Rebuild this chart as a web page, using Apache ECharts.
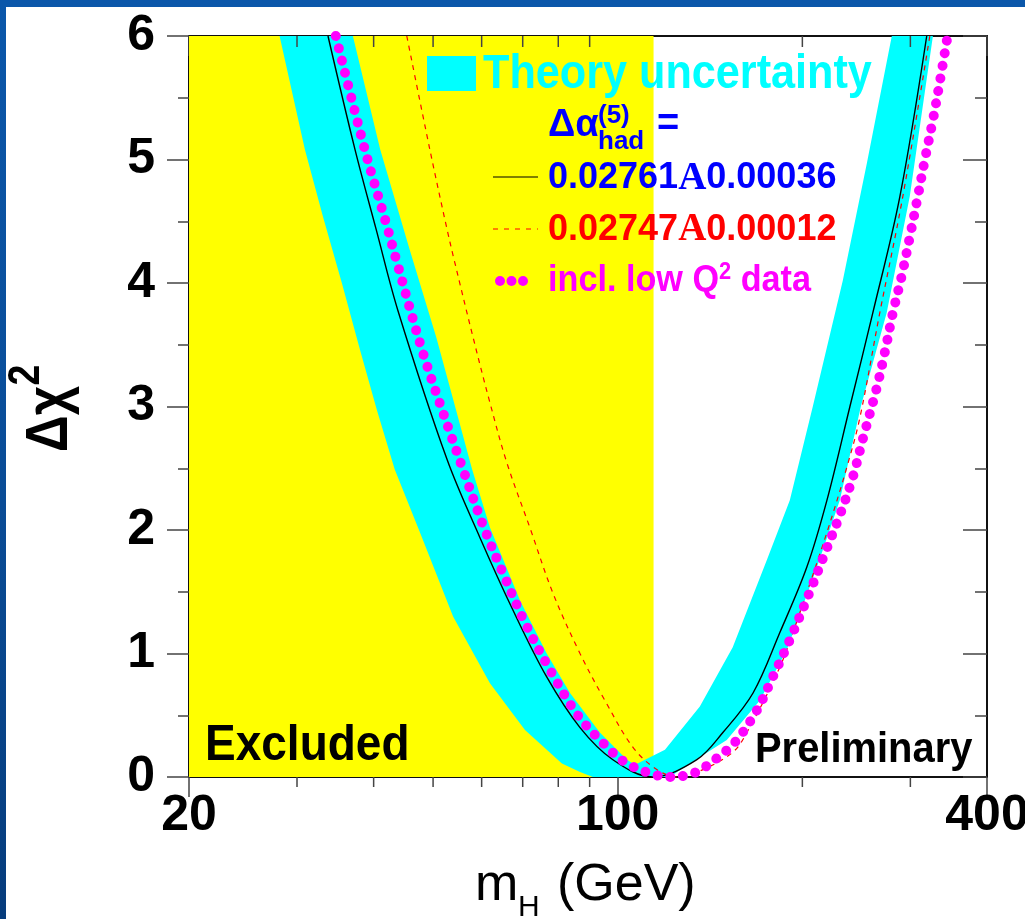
<!DOCTYPE html>
<html>
<head>
<meta charset="utf-8">
<script src="https://cdn.jsdelivr.net/npm/echarts@6/dist/echarts.min.js"></script>
<style>
  html, body { margin: 0; padding: 0; width: 1025px; height: 919px; overflow: hidden;
    background: linear-gradient(180deg, #0b57aa 0%, #0a4c96 55%, #063c7c 100%); }
  #panel { position: absolute; left: 6px; top: 7px; width: 1019px; height: 912px; background: #ffffff; }
  #chart { position: absolute; left: 0; top: 0; width: 1025px; height: 919px; }
</style>
</head>
<body>
<div id="panel"></div>
<div id="chart"></div>
<script>
// ---- axis ranges ----
const massMin = 20;
const massMax = 400;
const chi2Min = 0;
const chi2Max = 6;
const excludedLimit = 114.4;                 // direct search limit (GeV)
const minorMassTicks = [30, 40, 50, 60, 70, 80, 90, 200, 300];

// ---- Δχ² curves, [mH (GeV), Δχ²] ----
// Δα_had = 0.02761 ± 0.00036
const curveCentral = [
  [33.7, 6.0], [37.3, 5.08], [40.4, 4.43], [43.8, 3.78], [52.7, 2.57], [59.6, 1.94],
  [67.5, 1.35], [76.6, 0.81], [86.8, 0.40], [98.2, 0.14], [114, 0.0], [134.6, 0.14],
  [148.4, 0.36], [166.2, 0.68], [183.8, 1.17], [203.4, 1.70], [219.3, 2.24],
  [239.1, 3.0], [260.6, 3.76], [288.4, 4.70], [319, 6.0]
];
// Δα_had = 0.02747 ± 0.00012
const curveAlt = [
  [45.3, 6.0], [49.4, 5.08], [52.5, 4.47], [54.1, 4.19], [58.1, 3.56], [61.9, 3.03],
  [66.0, 2.54], [71.9, 2.02], [78.4, 1.49], [86.8, 1.0], [95.3, 0.62], [105.9, 0.24],
  [115.8, 0.06], [125.3, 0.0], [137.7, 0.06], [154, 0.2], [162.4, 0.36], [183.8, 0.89],
  [198.1, 1.33], [219.3, 1.98], [236.4, 2.51], [248.2, 2.91], [267.5, 3.76],
  [291.6, 4.70], [322.7, 6.0]
];
// including low-Q² data
const curveLowQ2 = [
  [34.7, 6.0], [38.7, 5.08], [42.0, 4.47], [43.7, 4.16], [48.1, 3.44], [53.7, 2.74],
  [55.5, 2.54], [60.3, 2.04], [65.0, 1.65], [70.6, 1.25], [77.5, 0.87], [86.1, 0.50],
  [95.3, 0.26], [102.7, 0.12], [112.8, 0.03], [121.6, 0.0], [131.1, 0.02], [137.7, 0.07],
  [144.0, 0.14], [155.2, 0.28], [168.6, 0.54], [179.0, 0.81], [190.8, 1.11],
  [205.7, 1.50], [217.6, 1.81], [230.2, 2.12], [241.8, 2.43], [251.1, 2.74],
  [264.4, 3.15], [272.6, 3.44], [281.0, 3.76], [290.5, 4.06], [299.3, 4.37],
  [308.5, 4.70], [316.8, 5.0], [326.5, 5.32], [335.1, 5.63], [345.0, 6.0]
];

// ---- theory uncertainty band outline, [mH, Δχ²] ----
const bandLeftOuter = [
  [28.1, 6.0], [30.9, 5.08], [33.1, 4.53], [35.5, 4.0], [38.0, 3.46], [40.5, 2.97],
  [43.3, 2.49], [47.6, 1.98], [53.9, 1.30], [61.9, 0.76], [70.6, 0.38], [81.1, 0.11],
  [86.8, 0.04], [91.1, 0.0]
];
const bandRightOuter = [
  [121.6, 0.0], [131.1, 0.11], [150.6, 0.30], [170.5, 0.62], [188.7, 1.03],
  [211.3, 1.70], [230.2, 2.24], [249.1, 3.0], [274.5, 3.76], [299.3, 4.70], [326.5, 6.0]
];
const bandRightInner = [
  [279.8, 6.0], [254.8, 4.97], [232.8, 4.02], [208.0, 3.0], [190.8, 2.24], [175.1, 1.76],
  [154.0, 1.05], [136.1, 0.57], [119.4, 0.22], [106.7, 0.10]
];
const bandLeftInner = [
  [103.5, 0.14], [93.5, 0.36], [83.6, 0.68], [76.6, 1.0], [69.3, 1.43], [61.9, 2.02],
  [57.9, 2.49], [54.1, 3.03], [50.6, 3.56], [45.8, 4.27], [41.0, 5.08], [37.0, 6.0]
];

// ---- texts ----
const legendTheory = 'Theory uncertainty';
const legendCentral = ['0.02761', 'A', '0.00036'];
const legendAlt = ['0.02747', 'A', '0.00012'];
const legendLowQ2 = ['incl. low Q', '2', ' data'];

const FONT = "'Liberation Sans', Arial, Helvetica, sans-serif";
const CYAN = '#00ffff', YELLOW = '#ffff00', BLUE = '#0000ff', RED = '#ff0000', MAGENTA = '#ff00ff';

const bandOutline = [].concat(bandLeftOuter, bandRightOuter, bandRightInner, bandLeftInner);

function label(x, y, text, size, color, extra, weight) {
  const el = {
    type: 'text', x: x, y: y, z: 50, silent: true,
    style: { text: text, fontSize: size, fontWeight: weight || 'bold', fontFamily: FONT, fill: color,
             align: 'left', verticalAlign: 'middle' }
  };
  return Object.assign(el, extra || {});
}

function valueRow(y, parts, color) {
  return {
    type: 'text', x: 548, y: y, z: 50, silent: true,
    style: {
      text: '{n|' + parts[0] + '}{a|' + parts[1] + '}{n|' + parts[2] + '}',
      align: 'left', verticalAlign: 'middle',
      rich: {
        n: { fontSize: 36, fontWeight: 'bold', fontFamily: FONT, fill: color },
        a: { fontSize: 39, fontWeight: 'bold', fontFamily: "'Liberation Serif', serif", fill: color }
      }
    }
  };
}

const axisLineStyle = { color: '#111', width: 2 };
const tickStyle = { color: '#444', width: 1.5 };
const tickLabel = { fontSize: 50, fontWeight: 'bold', fontFamily: FONT, color: '#000' };

const chart = echarts.init(document.getElementById('chart'), null, { renderer: 'canvas' });

const option = {
  animation: false,
  backgroundColor: 'transparent',
  grid: { left: 189, right: 38, top: 36, bottom: 142, containLabel: false, outerBoundsMode: 'none' },
  xAxis: [
    {
      type: 'log', logBase: 10, min: massMin, max: massMax, position: 'bottom',
      axisLine: { show: true, onZero: false, lineStyle: axisLineStyle },
      axisTick: { show: true, inside: false, length: 20, lineStyle: tickStyle },
      minorTick: { show: false },
      axisLabel: Object.assign({ show: true, margin: 14, showMinLabel: true, showMaxLabel: true }, tickLabel),
      splitLine: { show: false }
    },
    {
      type: 'log', logBase: 10, min: massMin, max: massMax, position: 'top',
      axisLine: { show: true, onZero: false, lineStyle: axisLineStyle },
      axisTick: { show: true, inside: true, length: 20, lineStyle: tickStyle },
      minorTick: { show: false },
      axisLabel: { show: false },
      splitLine: { show: false }
    }
  ],
  yAxis: [
    {
      type: 'value', min: chi2Min, max: chi2Max, interval: 1, position: 'left',
      axisLine: { show: true, onZero: false, lineStyle: axisLineStyle },
      axisTick: { show: true, inside: false, length: 22, lineStyle: tickStyle },
      minorTick: { show: true, splitNumber: 2, length: 11, lineStyle: tickStyle },
      axisLabel: Object.assign({ show: true, margin: 34 }, tickLabel),
      splitLine: { show: false }
    },
    {
      type: 'value', min: chi2Min, max: chi2Max, interval: 1, position: 'right',
      axisLine: { show: true, onZero: false, lineStyle: axisLineStyle },
      axisTick: { show: true, inside: true, length: 24, lineStyle: tickStyle },
      minorTick: { show: true, splitNumber: 2, length: 12, lineStyle: tickStyle },
      axisLabel: { show: false },
      splitLine: { show: false }
    }
  ],
  series: [
    {
      // excluded region
      type: 'custom', name: 'Excluded', z: 1, silent: true,
      xAxisIndex: 0, yAxisIndex: 0,
      data: [[massMin, chi2Min]],
      renderItem: function (params, api) {
        const a = api.coord([massMin, chi2Max]);
        const b = api.coord([excludedLimit, chi2Min]);
        return { type: 'rect', shape: { x: a[0], y: a[1], width: b[0] - a[0], height: b[1] - a[1] },
                 style: { fill: YELLOW } };
      }
    },
    {
      // theory uncertainty band
      type: 'custom', name: legendTheory, z: 2, silent: true,
      xAxisIndex: 0, yAxisIndex: 0,
      data: [[massMin, chi2Min]],
      renderItem: function (params, api) {
        const pts = bandOutline.map(function (p) { return api.coord(p); });
        return { type: 'polygon', shape: { points: pts }, style: { fill: CYAN } };
      }
    },
    {
      type: 'line', name: 'central', z: 3, data: curveCentral,
      xAxisIndex: 0, yAxisIndex: 0,
      showSymbol: false, symbol: 'none', smooth: 0.35, clip: false,
      lineStyle: { color: '#000', width: 1.4 }
    },
    {
      type: 'line', name: 'alt', z: 4, data: curveAlt,
      xAxisIndex: 0, yAxisIndex: 0,
      showSymbol: false, symbol: 'none', smooth: 0.35, clip: false,
      lineStyle: { color: RED, width: 1.2, type: [5, 5] }
    },
    {
      type: 'line', name: 'lowQ2', z: 5, data: curveLowQ2,
      xAxisIndex: 0, yAxisIndex: 0,
      showSymbol: false, symbol: 'none', smooth: 0.35, clip: false,
      lineStyle: { color: MAGENTA, width: 10, type: [0.01, 12.7], cap: 'round' }
    },
    {
      // minor ticks on the mass axis (bottom outward, top inward)
      type: 'custom', name: 'minorTicks', z: 6, silent: true,
      xAxisIndex: 0, yAxisIndex: 0,
      data: minorMassTicks.map(function (m) { return [m, chi2Min]; }),
      renderItem: function (params, api) {
        const m = api.value(0);
        const pb = api.coord([m, chi2Min]);
        const pt = api.coord([m, chi2Max]);
        const st = { stroke: '#444', lineWidth: 1.5 };
        return {
          type: 'group',
          children: [
            { type: 'line', shape: { x1: pb[0], y1: pb[1], x2: pb[0], y2: pb[1] + 10 }, style: st },
            { type: 'line', shape: { x1: pt[0], y1: pt[1], x2: pt[0], y2: pt[1] + 11 }, style: st }
          ]
        };
      }
    }
  ],
  graphic: {
    elements: [
      // legend
      { type: 'rect', z: 50, silent: true, shape: { x: 427, y: 56, width: 49, height: 35 }, style: { fill: CYAN } },
      label(483, 75, legendTheory, 48, CYAN, { scaleX: 0.9 }),
      label(548, 126, 'Δα', 38, BLUE),
      label(598, 116, '(5)', 26, BLUE),
      label(598, 142, 'had', 26, BLUE),
      label(657, 125, '=', 38, BLUE),
      { type: 'line', z: 50, silent: true, shape: { x1: 493, y1: 177, x2: 538, y2: 177 }, style: { stroke: '#000', lineWidth: 1.2 } },
      valueRow(178.5, legendCentral, BLUE),
      { type: 'line', z: 50, silent: true, shape: { x1: 493, y1: 229, x2: 538, y2: 229 }, style: { stroke: RED, lineWidth: 1.2, lineDash: [5, 6] } },
      valueRow(230, legendAlt, RED),
      { type: 'circle', z: 50, silent: true, shape: { cx: 500, cy: 281, r: 5 }, style: { fill: MAGENTA } },
      { type: 'circle', z: 50, silent: true, shape: { cx: 511.5, cy: 281, r: 5 }, style: { fill: MAGENTA } },
      { type: 'circle', z: 50, silent: true, shape: { cx: 523, cy: 281, r: 5 }, style: { fill: MAGENTA } },
      {
        type: 'text', x: 548, y: 281.5, z: 50, silent: true, scaleX: 0.95,
        style: {
          text: '{t|' + legendLowQ2[0] + '}{s|' + legendLowQ2[1] + '}{t|' + legendLowQ2[2] + '}',
          align: 'left', verticalAlign: 'middle',
          rich: {
            t: { fontSize: 36, fontWeight: 'bold', fontFamily: FONT, fill: MAGENTA, lineHeight: 40 },
            s: { fontSize: 23, fontWeight: 'bold', fontFamily: FONT, fill: MAGENTA, lineHeight: 16, verticalAlign: 'top' }
          }
        }
      },
      // annotations
      label(205, 746, 'Excluded', 50, '#000', { scaleX: 0.92 }),
      label(755, 750, 'Preliminary', 42, '#000', { scaleX: 0.95 }),
      // y-axis title
      {
        type: 'text', x: 50, y: 419, rotation: Math.PI / 2, scaleX: 0.85, z: 50, silent: true,
        style: { text: 'Δχ', fontSize: 60, fontWeight: 'bold', fontFamily: FONT, fill: '#000', align: 'center', verticalAlign: 'middle' }
      },
      {
        type: 'text', x: 27, y: 375, rotation: Math.PI / 2, scaleX: 0.85, z: 50, silent: true,
        style: { text: '2', fontSize: 44, fontWeight: 'bold', fontFamily: FONT, fill: '#000', align: 'center', verticalAlign: 'middle' }
      },
      // x-axis title
      label(475, 886, 'm', 52, '#000', null, 'normal'),
      label(518, 908, 'H', 30, '#000', null, 'normal'),
      label(557, 886, '(GeV)', 52, '#000', null, 'normal')
    ]
  }
};

chart.setOption(option);
</script>
</body>
</html>
